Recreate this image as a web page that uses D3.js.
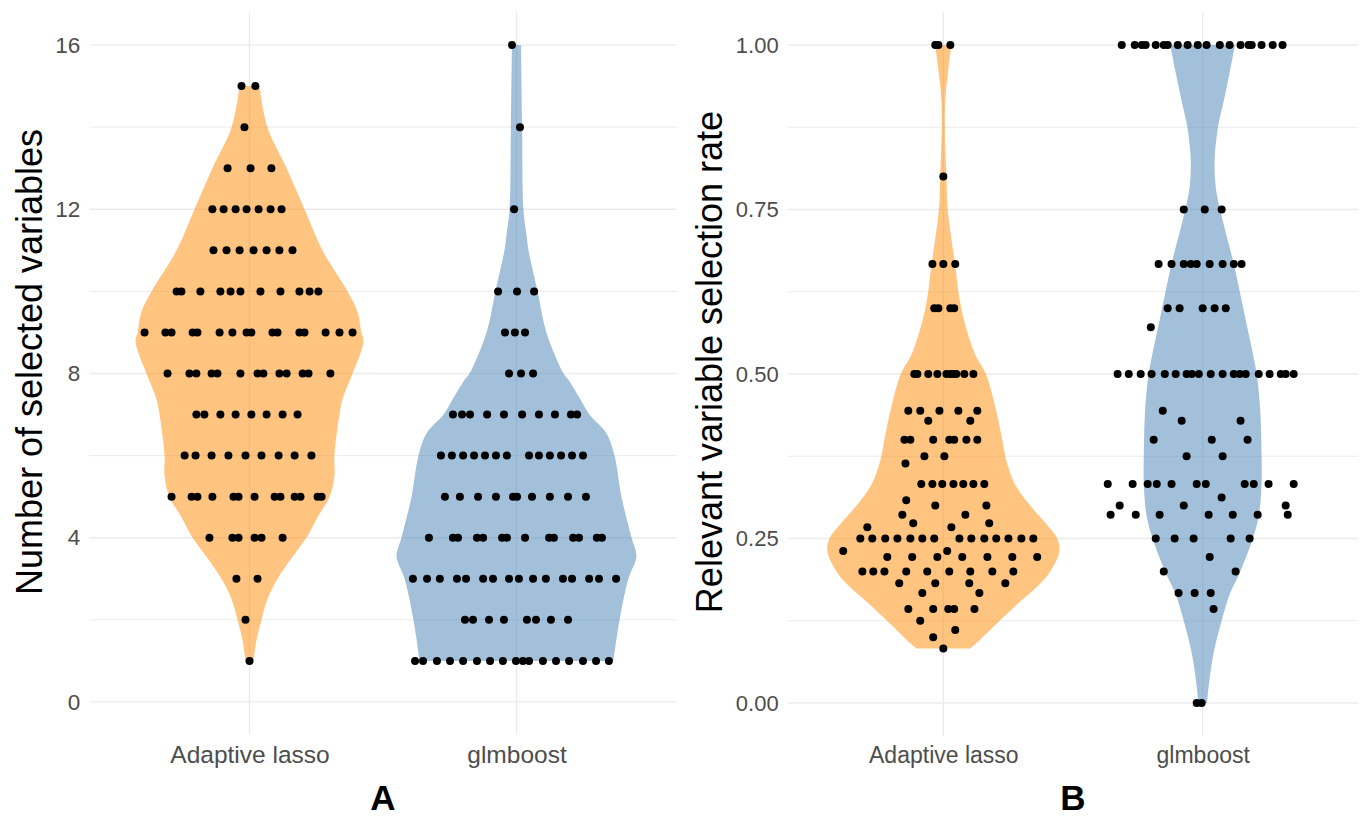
<!DOCTYPE html>
<html>
<head>
<meta charset="utf-8">
<script src="https://cdn.jsdelivr.net/npm/d3@7"></script>
<style>
  body { margin: 0; background: #fff; }
  text { font-family: "Liberation Sans", Arial, sans-serif; }
</style>
</head>
<body>
<div id="container"></div>
<script>
let w = 1363;
let h = 818;

const categories = ["Adaptive lasso", "glmboost"];
const fills = ["#FF8A00", "#4682B4"];

// panel A: number of selected variables
const countTicks = [0, 4, 8, 12, 16];
const countMinor = [2, 6, 10, 14];
// [value, jitter offsets in category units]
const lassoCountDots = [
  [15, [-0.030, 0.022]],
  [14, [-0.019]],
  [13, [-0.082, 0.004, 0.082]],
  [12, [-0.139, -0.097, -0.052, -0.011, 0.034, 0.079, 0.120]],
  [11, [-0.135, -0.086, -0.037, 0.015, 0.064, 0.112, 0.161]],
  [10, [-0.273, -0.255, -0.184, -0.109, -0.071, -0.034, 0.041, 0.116, 0.187, 0.225, 0.258]],
  [9, [-0.393, -0.315, -0.292, -0.213, -0.195, -0.112, -0.064, -0.011, 0.007, 0.086, 0.105, 0.187, 0.206, 0.285, 0.337, 0.386]],
  [8, [-0.307, -0.225, -0.199, -0.142, -0.120, -0.034, 0.030, 0.052, 0.112, 0.139, 0.199, 0.221, 0.303]],
  [7, [-0.199, -0.169, -0.109, -0.052, 0.007, 0.064, 0.124, 0.180]],
  [6, [-0.243, -0.202, -0.142, -0.079, -0.015, 0.045, 0.109, 0.169, 0.232]],
  [5, [-0.292, -0.217, -0.195, -0.139, -0.060, -0.041, 0.019, 0.094, 0.116, 0.169, 0.191, 0.255, 0.270]],
  [4, [-0.150, -0.064, -0.041, 0.019, 0.045, 0.124]],
  [3, [-0.049, 0.030]],
  [2, [-0.015]],
  [1, [0]]
];
const boostCountDots = [
  [16, [-0.017]],
  [14, [0.013]],
  [12, [-0.009]],
  [10, [-0.069, 0.002, 0.066]],
  [9, [-0.043, -0.006, 0.032]],
  [8, [-0.028, 0.017, 0.062]],
  [7, [-0.238, -0.204, -0.174, -0.110, -0.047, 0.021, 0.084, 0.144, 0.204, 0.227]],
  [6, [-0.283, -0.242, -0.200, -0.159, -0.118, -0.077, -0.036, 0.047, 0.084, 0.125, 0.167, 0.208, 0.249]],
  [5, [-0.268, -0.212, -0.144, -0.077, -0.013, 0.002, 0.058, 0.125, 0.193, 0.260]],
  [4, [-0.328, -0.238, -0.219, -0.148, -0.125, -0.054, -0.036, 0.032, 0.122, 0.140, 0.212, 0.234, 0.301, 0.320]],
  [3, [-0.388, -0.335, -0.287, -0.223, -0.189, -0.125, -0.088, -0.028, 0.009, 0.062, 0.110, 0.174, 0.208, 0.272, 0.309, 0.373]],
  [2, [-0.193, -0.163, -0.103, -0.047, 0.039, 0.073, 0.129, 0.193]],
  [1, [-0.380, -0.350, -0.298, -0.249, -0.200, -0.148, -0.099, -0.051, -0.002, 0.024, 0.047, 0.099, 0.148, 0.197, 0.249, 0.298, 0.346]]
];
// violin outlines: [value, half width in category units]
const lassoCountShape = [
  [1, 0.015], [1.5, 0.026], [2, 0.045], [2.5, 0.067], [3, 0.105], [3.5, 0.157],
  [4, 0.213], [4.5, 0.255], [5, 0.300], [5.5, 0.318], [6, 0.318], [7, 0.337],
  [7.36, 0.348], [8, 0.386], [8.5, 0.416], [8.8, 0.427], [9, 0.419], [9.5, 0.405],
  [10, 0.367], [11, 0.273], [12, 0.206], [13, 0.139], [14, 0.067], [15, 0.037]
];
const boostCountShape = [
  [1, 0.363], [2, 0.386], [3, 0.419], [3.55, 0.449], [4, 0.431], [5, 0.393],
  [6, 0.367], [6.54, 0.337], [7, 0.273], [7.36, 0.240], [7.84, 0.195], [8, 0.176],
  [9, 0.112], [10, 0.079], [11, 0.045], [11.4, 0.037], [12, 0.026], [14, 0.021], [16, 0.017]
];

// panel B: relevant variable selection rate
const rateTicks = [0, 0.25, 0.5, 0.75, 1];
const rateMinor = [0.125, 0.375, 0.625, 0.875];
const lassoRateDots = [
  [1, [-0.031, -0.019, 0.027]],
  [0.8, [0]],
  [0.667, [-0.042, 0, 0.046]],
  [0.6, [-0.035, -0.019, 0.027, 0.042]],
  [0.5, [-0.112, -0.100, -0.058, -0.023, 0.012, 0.027, 0.039, 0.050, 0.081, 0.116]],
  [0.444, [-0.135, -0.089, -0.015, 0.058, 0.131]],
  [0.429, [-0.058, 0.104]],
  [0.4, [-0.150, -0.127, -0.039, 0.023, 0.042, 0.089, 0.131]],
  [0.375, [-0.073, 0.004]],
  [0.364, [-0.146]],
  [0.333, [-0.085, -0.042, -0.004, 0.039, 0.077, 0.116, 0.158]],
  [0.308, [-0.143]],
  [0.3, [-0.031, 0.166]],
  [0.286, [-0.158, 0.085]],
  [0.273, [-0.116, 0.177]],
  [0.267, [-0.293, 0.031]],
  [0.25, [-0.320, -0.274, -0.224, -0.177, -0.127, -0.081, -0.035, 0.062, 0.108, 0.158, 0.204, 0.251, 0.301, 0.347]],
  [0.231, [-0.386, 0.015]],
  [0.222, [-0.216, -0.120, -0.023, 0.073, 0.170, 0.266, 0.362]],
  [0.2, [-0.312, -0.270, -0.227, -0.143, -0.062, 0.023, 0.104, 0.189, 0.270]],
  [0.182, [-0.170, -0.031, 0.100, 0.239]],
  [0.167, [-0.081, 0.139]],
  [0.143, [-0.135, -0.039, 0.019, 0.042, 0.120]],
  [0.125, [-0.089]],
  [0.111, [0.046]],
  [0.1, [-0.039]],
  [0.083, [0]]
];
const boostRateDots = [
  [1, [-0.312, -0.262, -0.235, -0.220, -0.181, -0.150, -0.135, -0.096, -0.058, -0.019, 0.015, 0.066, 0.104, 0.146, 0.177, 0.189, 0.227, 0.270, 0.308]],
  [0.75, [-0.073, 0.008, 0.073]],
  [0.667, [-0.170, -0.120, -0.073, -0.046, -0.023, 0.027, 0.077, 0.120, 0.150]],
  [0.6, [-0.135, -0.089, 0, 0.046, 0.089]],
  [0.571, [-0.200]],
  [0.5, [-0.328, -0.285, -0.239, -0.197, -0.146, -0.104, -0.062, -0.042, -0.015, 0.031, 0.077, 0.120, 0.143, 0.166, 0.216, 0.258, 0.301, 0.320, 0.351]],
  [0.444, [-0.154]],
  [0.429, [-0.081, 0.146]],
  [0.4, [-0.189, 0.035, 0.173]],
  [0.375, [-0.062, 0.077]],
  [0.333, [-0.366, -0.270, -0.212, -0.177, -0.120, -0.023, 0.012, 0.162, 0.197, 0.254, 0.351]],
  [0.3125, [0.073]],
  [0.3, [-0.320, -0.073, 0.320]],
  [0.286, [-0.355, -0.258, -0.166, 0.023, 0.116, 0.212, 0.328]],
  [0.25, [-0.181, -0.108, -0.035, 0.108, 0.181]],
  [0.222, [0.027]],
  [0.2, [-0.150, 0.127]],
  [0.167, [-0.093, -0.031, 0.031]],
  [0.143, [0.042]],
  [0, [-0.023, -0.004]]
];
const lassoRateShape = [
  [0.083, 0.104], [0.095, 0.139], [0.123, 0.212], [0.15, 0.285], [0.18, 0.370],
  [0.2, 0.412], [0.23, 0.447], [0.25, 0.439], [0.272, 0.397], [0.3, 0.335],
  [0.331, 0.278], [0.354, 0.254], [0.375, 0.239], [0.4, 0.227], [0.444, 0.204],
  [0.5, 0.164], [0.532, 0.120], [0.6, 0.069], [0.667, 0.045], [0.75, 0.017],
  [0.8, 0.012], [0.875, 0.006], [0.92, 0.008], [0.962, 0.019], [1, 0.031]
];
const boostRateShape = [
  [0, 0.017], [0.025, 0.023], [0.0755, 0.042], [0.125, 0.073], [0.167, 0.106],
  [0.2, 0.145], [0.25, 0.193], [0.284, 0.216], [0.333, 0.227], [0.375, 0.227],
  [0.444, 0.222], [0.5, 0.208], [0.582, 0.166], [0.625, 0.143], [0.667, 0.120],
  [0.75, 0.067], [0.785, 0.050], [0.825, 0.046], [0.875, 0.059], [0.911, 0.079],
  [0.962, 0.106], [1, 0.125]
];

let viz = d3.select("#container")
  .append("svg")
    .attr("width", w)
    .attr("height", h)
    .style("background-color", "white");

function drawPanel(cfg) {
  let x = d3.scalePoint().domain(categories).range([cfg.left, cfg.right]).padding(0.6);
  let y = d3.scaleLinear().domain(cfg.domain).range([cfg.bottom, cfg.top]);
  let g = viz.append("g");

  // grid lines
  g.selectAll(".minor").data(cfg.minor).join("line")
    .attr("x1", cfg.left).attr("x2", cfg.right)
    .attr("y1", d => y(d)).attr("y2", d => y(d))
    .attr("stroke", "#EBEBEB").attr("stroke-width", 1);
  g.selectAll(".major").data(cfg.ticks).join("line")
    .attr("x1", cfg.left).attr("x2", cfg.right)
    .attr("y1", d => y(d)).attr("y2", d => y(d))
    .attr("stroke", "#EBEBEB").attr("stroke-width", 1.3);
  g.selectAll(".vgrid").data(categories).join("line")
    .attr("x1", d => x(d)).attr("x2", d => x(d))
    .attr("y1", cfg.top).attr("y2", cfg.bottom)
    .attr("stroke", "#EBEBEB").attr("stroke-width", 1.3);

  // violins
  cfg.shapes.forEach((shape, i) => {
    let cx = x(categories[i]);
    let area = d3.area()
      .curve(d3.curveCatmullRom)
      .y(d => y(d[0]))
      .x0(d => cx - d[1] * x.step())
      .x1(d => cx + d[1] * x.step());
    g.append("path").datum(shape)
      .attr("d", area)
      .attr("fill", fills[i])
      .attr("fill-opacity", 0.5);
  });

  // jittered points
  let pts = cfg.dots.flatMap((rows, i) =>
    rows.flatMap(([v, js]) => js.map(j => ({cat: categories[i], v: v, j: j})))
  );
  g.selectAll(".dot").data(pts).join("circle")
    .attr("cx", d => x(d.cat) + d.j * x.step())
    .attr("cy", d => y(d.v))
    .attr("r", 4)
    .attr("fill", "black");

  // axes
  let yAxis = d3.axisLeft(y).tickValues(cfg.ticks).tickFormat(cfg.fmt).tickSize(0).tickPadding(9);
  let yAxisGroup = g.append("g").attr("transform", "translate(" + cfg.left + ",0)").call(yAxis);
  yAxisGroup.select(".domain").remove();
  yAxisGroup.selectAll("text").attr("font-size", cfg.tickSize).attr("fill", "#4D4D4D")
    .style("font-family", "'Liberation Sans', Arial, sans-serif");

  let xAxis = d3.axisBottom(x).tickSize(0).tickPadding(cfg.xPad);
  let xAxisGroup = g.append("g").attr("transform", "translate(0," + cfg.bottom + ")").call(xAxis);
  xAxisGroup.select(".domain").remove();
  xAxisGroup.selectAll("text").attr("font-size", cfg.labelSize).attr("fill", "#4D4D4D")
    .style("font-family", "'Liberation Sans', Arial, sans-serif");

  // titles
  g.append("text")
    .attr("transform", "translate(" + cfg.titleX + ",362) rotate(-90)")
    .attr("text-anchor", "middle")
    .attr("font-size", 36)
    .attr("fill", "black")
    .text(cfg.yTitle);
  g.append("text")
    .attr("x", (cfg.left + cfg.right) / 2)
    .attr("y", 810)
    .attr("text-anchor", "middle")
    .attr("font-size", 35)
    .attr("font-weight", "bold")
    .attr("fill", "black")
    .text(cfg.letter);
}

drawPanel({
  left: 89.3, right: 676.7, top: 12.2, bottom: 734.8,
  domain: [-0.8, 16.8], ticks: countTicks, minor: countMinor, fmt: d3.format("d"),
  shapes: [lassoCountShape, boostCountShape], dots: [lassoCountDots, boostCountDots],
  tickSize: 22.5, labelSize: 24.5, xPad: 11, titleX: 42,
  yTitle: "Number of selected variables", letter: "A"
});

drawPanel({
  left: 787.7, right: 1358.3, top: 12.1, bottom: 735.9,
  domain: [-0.05, 1.05], ticks: rateTicks, minor: rateMinor, fmt: d3.format(".2f"),
  shapes: [lassoRateShape, boostRateShape], dots: [lassoRateDots, boostRateDots],
  tickSize: 22, labelSize: 23, xPad: 11, titleX: 722,
  yTitle: "Relevant variable selection rate", letter: "B"
});
</script>
</body>
</html>
